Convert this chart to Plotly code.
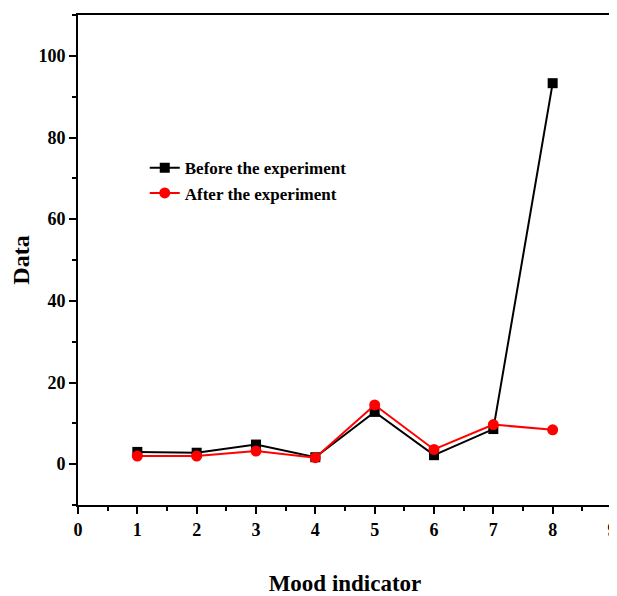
import plotly.graph_objects as go

x_vals = [1, 2, 3, 4, 5, 6, 7, 8]
before = [3.0, 2.8, 4.8, 1.7, 12.8, 2.2, 8.6, 93.3]
after = [2.0, 2.0, 3.2, 1.6, 14.5, 3.6, 9.7, 8.4]
x_ticks = list(range(0, 10))
y_ticks = [0, 20, 40, 60, 80, 100]

font_family = "Liberation Serif"

fig = go.Figure()
fig.add_trace(go.Scatter(
    x=x_vals, y=before, mode="lines+markers", name="<b>Before the experiment</b>",
    line=dict(color="black", width=2),
    marker=dict(symbol="square", size=10, color="black"),
))
fig.add_trace(go.Scatter(
    x=x_vals, y=after, mode="lines+markers", name="<b>After the experiment</b>",
    line=dict(color="#ff0000", width=2),
    marker=dict(symbol="circle", size=11, color="#ff0000"),
))

# page body has an 8px default margin, so the figure is sized/offset to compensate
fig.update_layout(
    width=609, height=588,
    margin=dict(l=70, r=5, t=7, b=91, autoexpand=False),
    plot_bgcolor="white", paper_bgcolor="white",
    font=dict(family=font_family, color="black", size=17),
    showlegend=True,
    legend=dict(x=0.125, y=0.724, xanchor="left", yanchor="top",
                bgcolor="rgba(0,0,0,0)", font=dict(size=17, family=font_family),
                tracegroupgap=0, itemwidth=30),
)
fig.update_xaxes(
    range=[0, 9], tickvals=x_ticks, ticktext=[f"<b>{t}</b>" for t in x_ticks],
    showgrid=False, zeroline=False, showline=True, linecolor="black", linewidth=2,
    mirror=True, ticks="outside", ticklen=7, tickwidth=1.5, tickcolor="black",
    minor=dict(dtick=0.5, tick0=0, ticks="outside", ticklen=4, tickwidth=1.5, tickcolor="black"),
    title=dict(text="<b>Mood indicator</b>", font=dict(size=23, family=font_family), standoff=36),
    tickfont=dict(size=18, family=font_family), automargin=False,
    ticklabeloverflow="allow",
)
fig.update_yaxes(
    range=[-10, 110], tickvals=y_ticks, ticktext=[f"<b>{t}</b>" for t in y_ticks],
    showgrid=False, zeroline=False, showline=True, linecolor="black", linewidth=2,
    mirror=True, ticks="outside", ticklen=7, tickwidth=1.5, tickcolor="black",
    minor=dict(dtick=10, tick0=0, ticks="outside", ticklen=4, tickwidth=1.5, tickcolor="black"),
    title=dict(text="<b>Data</b>", font=dict(size=24, family=font_family), standoff=7),
    tickfont=dict(size=18, family=font_family), automargin=False,
)

fig.write_html("out.html")
